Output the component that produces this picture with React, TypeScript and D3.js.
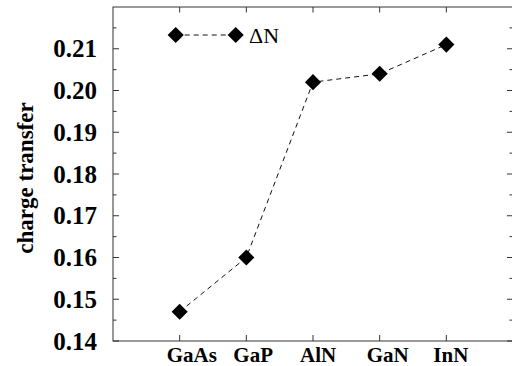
import React from "react";
import * as d3 from "d3";

const categories = ["GaAs", "GaP", "AlN", "GaN", "InN"];
const deltaN = [0.147, 0.16, 0.202, 0.204, 0.211];
const majorTicks = [0.14, 0.15, 0.16, 0.17, 0.18, 0.19, 0.2, 0.21];
const minorTicks = [0.145, 0.155, 0.165, 0.175, 0.185, 0.195, 0.205, 0.215];
const legendLabel = "ΔN";

const W = 512;
const H = 366;
const font = "Times";

export default function App() {
  const left = 113, right = 513, top = 7, bottom = 341;
  const x = d3.scaleLinear().domain([-1, 5]).range([left, right]);
  const y = d3.scaleLinear().domain([0.14, 0.22]).range([bottom, top]);
  const axisColor = "#333";
  const fmt = d3.format(".2f");

  const line = d3.line<number>().x((d, i) => x(i)).y((d) => y(d));
  const diamond = d3.symbol().type(d3.symbolSquare).size(130)() || "";

  const ly = 35, lx1 = 175.7, lx2 = 235.7;

  return (
    <svg
      width={W}
      height={H}
      style={{
        position: "absolute",
        left: 0,
        top: 0,
        background: "#fff",
        fontFamily: "'Liberation Serif', Tinos, Times, serif",
      }}
    >
      <rect
        x={left}
        y={top}
        width={right - left}
        height={bottom - top}
        fill="none"
        stroke={axisColor}
        strokeWidth={1}
      />
      <g stroke={axisColor} strokeWidth={1}>
        {majorTicks.map((v) => (
          <g key={"M" + v}>
            <line x1={left} x2={left + 6} y1={y(v)} y2={y(v)} />
            <line x1={right} x2={right - 6} y1={y(v)} y2={y(v)} />
          </g>
        ))}
        {minorTicks.map((v) => (
          <g key={"m" + v}>
            <line x1={left} x2={left + 3.5} y1={y(v)} y2={y(v)} />
            <line x1={right} x2={right - 3.5} y1={y(v)} y2={y(v)} />
          </g>
        ))}
        {categories.map((c, i) => (
          <g key={"x" + c}>
            <line x1={x(i)} x2={x(i)} y1={bottom} y2={bottom - 6} />
            <line x1={x(i)} x2={x(i)} y1={top} y2={top + 5.5} />
          </g>
        ))}
      </g>

      {majorTicks.map((v) => (
        <text
          key={"t" + v}
          x={97}
          y={y(v) + 8.5}
          textAnchor="end"
          fontFamily={font}
          fontWeight="bold"
          fontSize={25}
        >
          {fmt(v)}
        </text>
      ))}

      {categories.map((c, i) => (
        <text
          key={"c" + c}
          x={x(i) - 13}
          y={362}
          fontFamily={font}
          fontWeight="bold"
          fontSize={21}
        >
          {c}
        </text>
      ))}

      <text
        transform="translate(33,178) rotate(-90)"
        textAnchor="middle"
        fontFamily={font}
        fontWeight="bold"
        fontSize={23}
      >
        charge transfer
      </text>

      <path
        d={line(deltaN) || ""}
        fill="none"
        stroke="#111"
        strokeWidth={1}
        strokeDasharray="5,4"
      />
      {deltaN.map((d, i) => (
        <path
          key={"p" + i}
          d={diamond}
          transform={`translate(${x(i)},${y(d)}) rotate(45)`}
          fill="#000"
        />
      ))}

      <line
        x1={lx1}
        x2={lx2}
        y1={ly}
        y2={ly}
        stroke="#111"
        strokeWidth={1}
        strokeDasharray="5,4"
      />
      {[lx1, lx2].map((lx) => (
        <path key={"l" + lx} d={diamond} transform={`translate(${lx},${ly}) rotate(45)`} fill="#000" />
      ))}
      <text x={249} y={43} fontFamily={font} fontSize={22}>
        {legendLabel}
      </text>
    </svg>
  );
}
